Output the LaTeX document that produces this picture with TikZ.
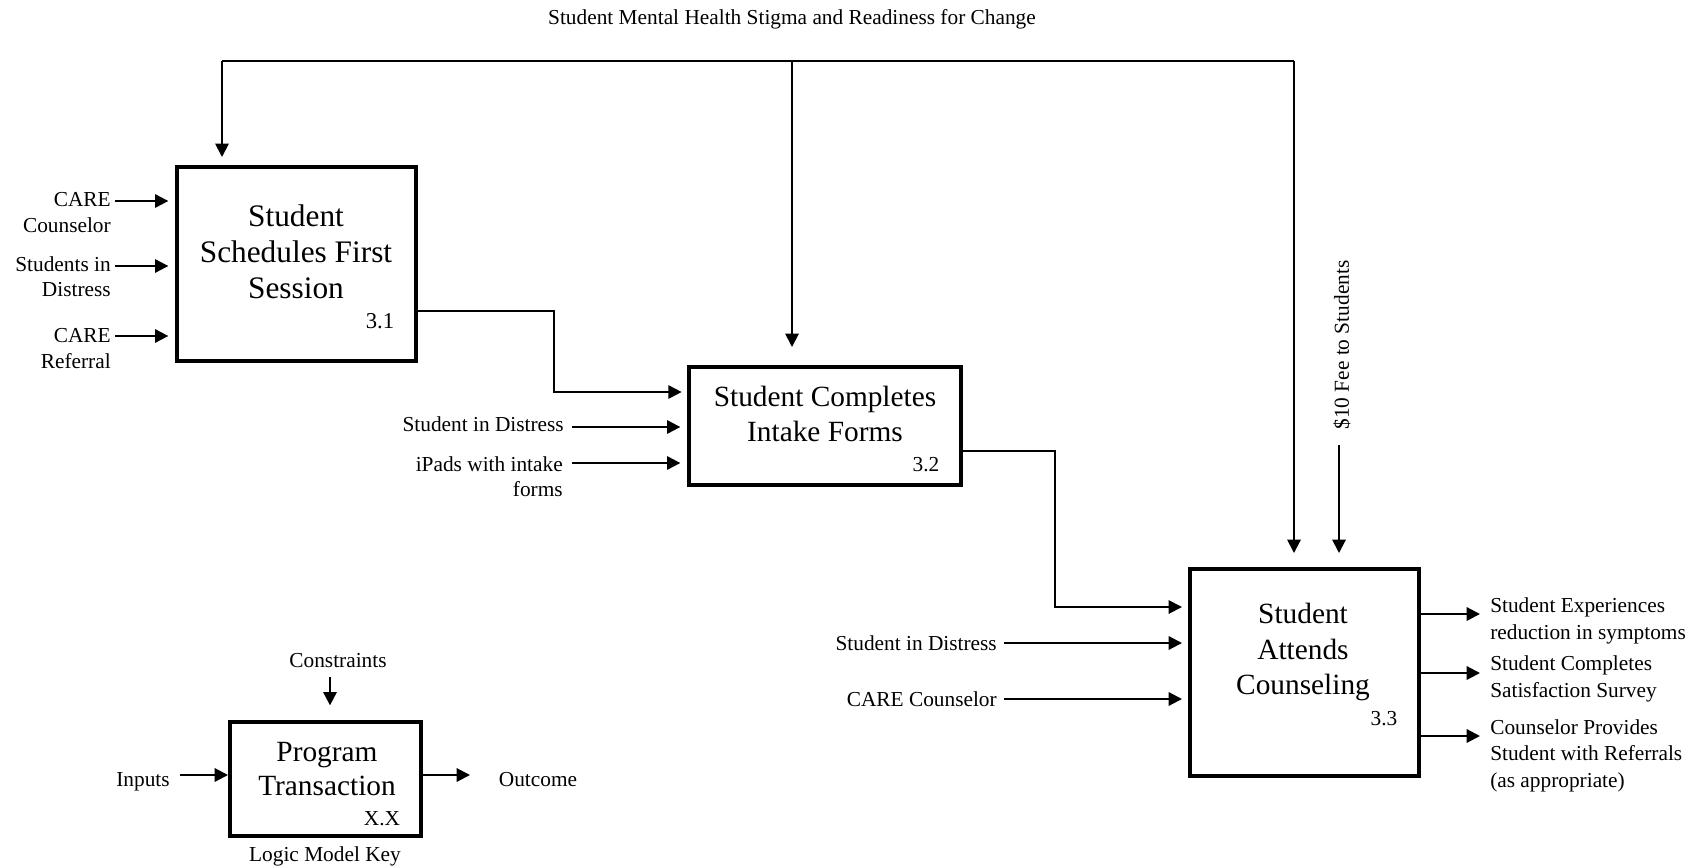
\documentclass[tikz,border=0pt]{standalone}
\usepackage{fontspec}
\setmainfont{Liberation Serif}
\usetikzlibrary{arrows.meta}
\begin{document}
\begin{tikzpicture}[x=0.75pt,y=-0.75pt,
  procbox/.style={draw, line width=3pt, rectangle, inner sep=0pt},
  conn/.style={line width=1.4pt},
  arr/.style={line width=1.6pt, -{Triangle[length=10pt,width=10pt]}},
  small/.style={font=\fontsize{16}{19}\selectfont, inner sep=0pt},
  outtxt/.style={font=\fontsize{16}{20}\selectfont, inner sep=0pt, align=left, anchor=north west},
  intxt/.style={font=\fontsize{16}{19}\selectfont, inner sep=0pt, align=right, anchor=north east},
  big/.style={font=\fontsize{22}{26.5}\selectfont, inner sep=0pt, align=center},
  num/.style={font=\fontsize{16}{19}\selectfont, inner sep=0pt, anchor=base},
]
\useasboundingbox (0,0) rectangle (1701,867);

% title
\node[small, anchor=base] (title) at (792,25) {Student Mental Health Stigma and Readiness for Change};

% boxes
\node[procbox, minimum width=179.25pt, minimum height=145.5pt] (b1) at (296.5,264) {};
\node[font=\fontsize{23.5}{27}\selectfont, inner sep=0pt, align=center] (t1) at (296,252) {Student\\Schedules First\\Session};
\node[num, font=\fontsize{17}{19}\selectfont] (n1) at (380,328) {3.1};

\node[procbox, minimum width=204pt, minimum height=88.5pt] (b2) at (825,426) {};
\node[big] (t2) at (825,414) {Student Completes\\Intake Forms};
\node[num] (n2) at (926,471) {3.2};

\node[procbox, minimum width=171.75pt, minimum height=155.25pt] (b3) at (1304.5,672.5) {};
\node[big] (t3) at (1303,652) {Student\\Attends\\Counseling};
\node[num] (n3) at (1384,725) {3.3};

% top constraint network
\coordinate (tl) at (222,61);
\coordinate (tm) at (792,61);
\coordinate (tr) at (1294,61);
\draw[conn] (tl) -- (tr);
\draw[arr, line width=1.4pt, shorten >=6pt] (tl) -- (tl |- b1.north);
\draw[arr, line width=1.4pt, shorten >=13.5pt] (tm) -- (tm |- b2.north);
\draw[arr, line width=1.4pt, shorten >=10.5pt] (tr) -- (tr |- b3.north);

% fee
\node[small, rotate=90] (fee) at (1342,345) {\$10 Fee to Students};
\coordinate (fs) at (1339,445);
\draw[arr, line width=1.4pt, shorten >=10.5pt] (fs) -- (fs |- b3.north);

% box 1 inputs
\node[intxt] (l11) at (111,192.5) {CARE\\Counselor};
\node[intxt] (l12) at (111,256.5) {Students in\\Distress};
\node[intxt] (l13) at (111,328.5) {CARE\\Referral};
\coordinate (i11) at (115,201);
\coordinate (i12) at (115,266);
\coordinate (i13) at (115,336);
\draw[arr, shorten >=5pt] (i11) -- (b1.west |- i11);
\draw[arr, shorten >=5pt] (i12) -- (b1.west |- i12);
\draw[arr, shorten >=5pt] (i13) -- (b1.west |- i13);

% box 1 -> box 2
\coordinate (c1a) at (554,311);
\coordinate (c1b) at (554,392);
\draw[arr, line width=1.4pt, shorten >=4pt] (b1.east |- c1a) -- (c1a) -- (c1b) -- (b2.west |- c1b);

% box 2 inputs
\node[small, anchor=east] (l21) at (564,424) {Student in Distress};
\node[intxt] (l22) at (563,456.5) {iPads with intake\\forms};
\coordinate (i21) at (572,427);
\coordinate (i22) at (572,463);
\draw[arr, shorten >=5pt] (i21) -- (b2.west |- i21);
\draw[arr, shorten >=5pt] (i22) -- (b2.west |- i22);

% box 2 -> box 3
\coordinate (c2a) at (1055,451);
\coordinate (c2b) at (1055,607);
\draw[arr, line width=1.4pt, shorten >=4.5pt] (b2.east |- c2a) -- (c2a) -- (c2b) -- (b3.west |- c2b);

% box 3 inputs
\node[small, anchor=east] (l31) at (997,643) {Student in Distress};
\node[small, anchor=east] (l32) at (997,699) {CARE Counselor};
\coordinate (i31) at (1004,643);
\coordinate (i32) at (1004,699);
\draw[arr, shorten >=4.5pt] (i31) -- (b3.west |- i31);
\draw[arr, shorten >=4.5pt] (i32) -- (b3.west |- i32);

% box 3 outputs
\coordinate (o31) at (1480,614);
\coordinate (o32) at (1480,673);
\coordinate (o33) at (1480,736);
\draw[arr] (b3.east |- o31) -- (o31);
\draw[arr] (b3.east |- o32) -- (o32);
\draw[arr] (b3.east |- o33) -- (o33);
\node[outtxt] (r1) at (1490,597.5) {Student Experiences\\reduction in symptoms};
\node[outtxt] (r2) at (1490,655.5) {Student Completes\\Satisfaction Survey};
\node[outtxt] (r3) at (1490,719) {Counselor Provides\\Student with Referrals\\(as appropriate)};

% key
\node[procbox, minimum width=143.25pt, minimum height=85.5pt] (k) at (325.5,779) {};
\node[big, font=\fontsize{22}{25}\selectfont] (tk) at (327,769) {Program\\Transaction};
\node[num] (nk) at (382,825) {X.X};
\node[small, anchor=base] (kc) at (338,667) {Constraints};
\node[small, anchor=base] (ki) at (143,786) {Inputs};
\node[small, anchor=base] (ko) at (538,786) {Outcome};
\node[small, anchor=base] (kl) at (325,861) {Logic Model Key};
\coordinate (kca) at (330,677);
\coordinate (kia) at (180,775);
\coordinate (koa) at (470,775);
\draw[arr, shorten >=11pt] (kca) -- (kca |- k.north);
\draw[arr] (kia) -- (k.west |- kia);
\draw[arr] (k.east |- koa) -- (koa);
\end{tikzpicture}
\end{document}
